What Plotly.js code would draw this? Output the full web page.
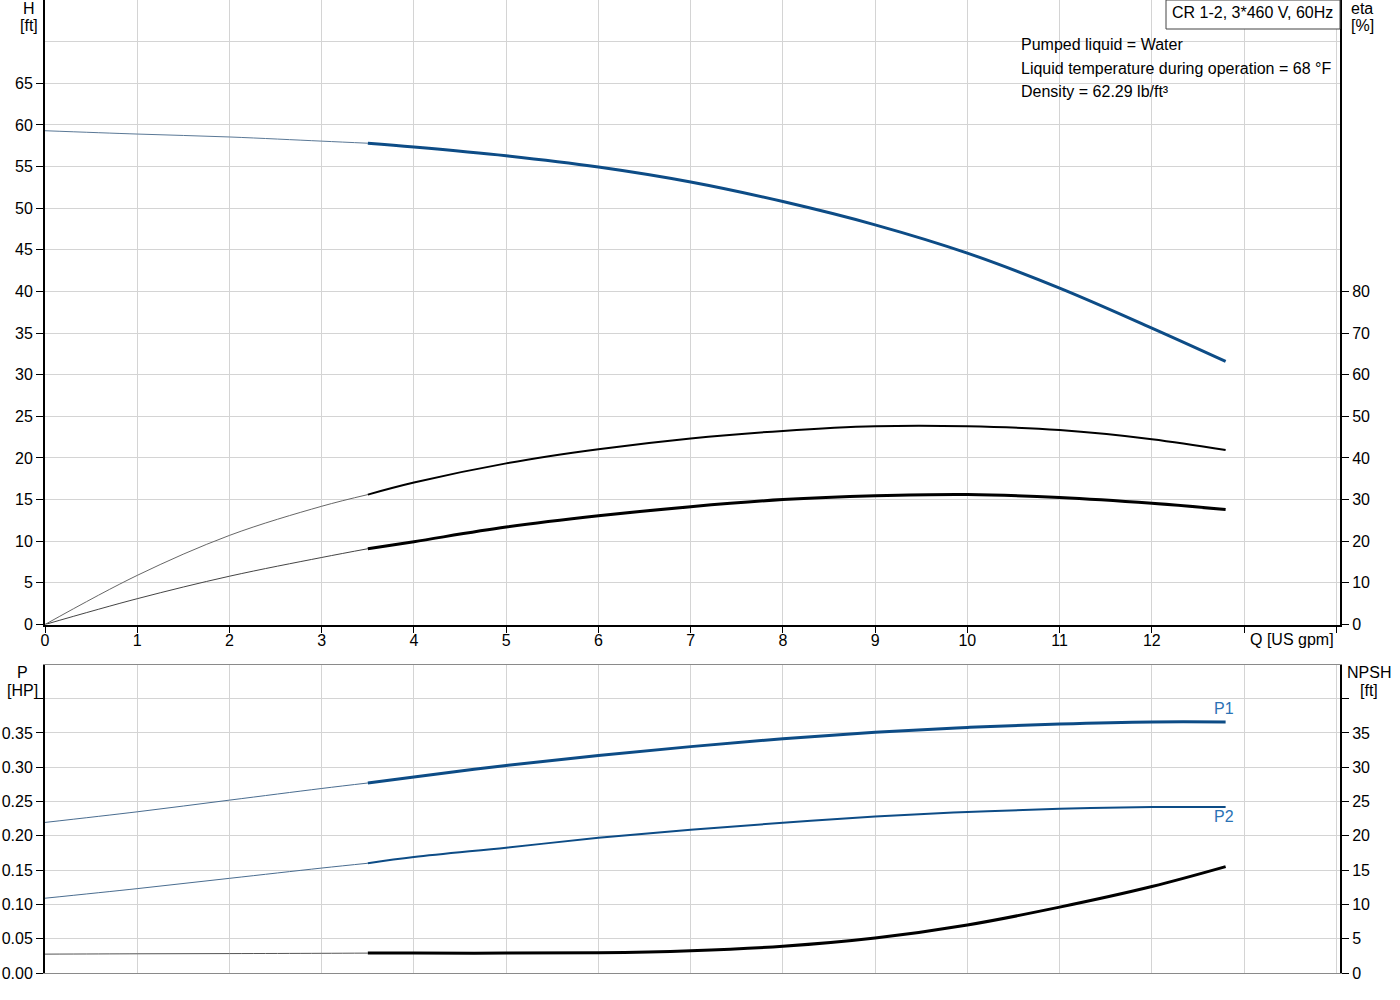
<!DOCTYPE html>
<html>
<head>
<meta charset="utf-8">
<script src="https://cdn.plot.ly/plotly-3.0.1.min.js"></script>
<style>
  html, body { margin: 0; padding: 0; background: #fff; }
  #chart { width: 1400px; height: 1000px; }
</style>
</head>
<body>
<div id="chart"></div>
<script>
// flow points, thin part (outside the operating range) and thick part
var qLow = [0, 1, 2, 3, 3.5];
var qHigh = [3.5, 4, 5, 6, 7, 8, 9, 10, 11, 12, 12.8];

// head H [ft]
var headLow = [59.3, 58.9, 58.55, 58.05, 57.8];
var headHigh = [57.8, 57.35, 56.3, 54.95, 53.15, 50.8, 48.0, 44.6, 40.4, 35.6, 31.6];

// efficiency [%] - pump
var etaPumpLow = [0, 11.8, 21.4, 28.4, 31.2];
var etaPumpHigh = [31.2, 34.1, 38.7, 42.1, 44.7, 46.5, 47.6, 47.6, 46.7, 44.5, 41.9];

// efficiency [%] - total
var etaTotLow = [0, 6.2, 11.6, 16.1, 18.2];
var etaTotHigh = [18.2, 19.9, 23.4, 26.1, 28.3, 30.0, 30.9, 31.2, 30.5, 29.1, 27.6];

// power [HP]
var p1Low = [0.2195, 0.235, 0.252, 0.269, 0.277];
var p1High = [0.277, 0.2857, 0.3026, 0.317, 0.330, 0.3415, 0.351, 0.358, 0.363, 0.366, 0.366];
var p2Low = [0.109, 0.123, 0.138, 0.153, 0.160];
var p2High = [0.160, 0.169, 0.1827, 0.197, 0.209, 0.219, 0.228, 0.2347, 0.2395, 0.242, 0.242];

// NPSH [ft]
var npshLow = [2.75, 2.8, 2.83, 2.87, 2.9];
var npshHigh = [2.9, 2.9, 2.9, 2.95, 3.25, 3.9, 5.1, 7.0, 9.6, 12.6, 15.5];

// tick labels
var qTicks = [0, 1, 2, 3, 4, 5, 6, 7, 8, 9, 10, 11, 12, 13, 14];
var qLabels = ["0", "1", "2", "3", "4", "5", "6", "7", "8", "9", "10", "11", "12", "", ""];
var hTicks = [0, 5, 10, 15, 20, 25, 30, 35, 40, 45, 50, 55, 60, 65];
var etaTicks = [0, 10, 20, 30, 40, 50, 60, 70, 80];
var pTicks = [0, 0.05, 0.10, 0.15, 0.20, 0.25, 0.30, 0.35, 0.40];
var pLabels = ["0.00", "0.05", "0.10", "0.15", "0.20", "0.25", "0.30", "0.35", ""];
var npshTicks = [0, 5, 10, 15, 20, 25, 30, 35, 40];
var npshLabels = ["0", "5", "10", "15", "20", "25", "30", "35", ""];

var blue = "#0d4c86";
var labelBlue = "#2a72b5";
var gridCol = "#d4d4d4";
var fontFam = "Liberation Sans, Arial, sans-serif";

function line(x, y, xa, ya, color, width) {
  return {
    type: "scatter", mode: "lines", x: x, y: y, xaxis: xa, yaxis: ya,
    line: { color: color, width: width, shape: "spline", smoothing: 1 },
    hoverinfo: "skip", showlegend: false
  };
}

var traces = [
  line(qLow, headLow, "x", "y", "#5a7896", 1),
  line(qHigh, headHigh, "x", "y", blue, 3),
  line(qLow, etaPumpLow, "x", "y2", "#666666", 1),
  line(qHigh, etaPumpHigh, "x", "y2", "#000000", 2),
  line(qLow, etaTotLow, "x", "y2", "#444444", 1),
  line(qHigh, etaTotHigh, "x", "y2", "#000000", 3),
  line(qLow, p1Low, "x2", "y3", "#4a6d90", 1),
  line(qHigh, p1High, "x2", "y3", blue, 3),
  line(qLow, p2Low, "x2", "y3", "#4a6d90", 1),
  line(qHigh, p2High, "x2", "y3", blue, 2),
  line(qLow, npshLow, "x2", "y4", "#555555", 1),
  line(qHigh, npshHigh, "x2", "y4", "#000000", 3)
];

var tickFont = { family: fontFam, size: 16, color: "#000" };

var layout = {
  width: 1400,
  height: 1000,
  margin: { l: 0, r: 0, t: 0, b: 0 },
  paper_bgcolor: "#fff",
  plot_bgcolor: "#fff",
  font: { family: fontFam, size: 16, color: "#000" },
  showlegend: false,
  xaxis: {
    domain: [45 / 1400, 1340 / 1400],
    range: [0, 14.04],
    tickmode: "array", tickvals: qTicks, ticktext: qLabels,
    ticks: "outside", ticklen: 6, tickcolor: "#000",
    ticklabelstandoff: -6,
    showgrid: true, gridcolor: gridCol, gridwidth: 1,
    showline: true, linecolor: "#000", linewidth: 2,
    zeroline: false, tickfont: tickFont,
    anchor: "y", fixedrange: true
  },
  yaxis: {
    domain: [0.3755, 1],
    range: [0, 75],
    tickmode: "array", tickvals: hTicks,
    ticks: "outside", ticklen: 7, tickcolor: "#000",
    showgrid: true, gridcolor: gridCol, gridwidth: 1,
    minor: { tickvals: [70, 75], showgrid: true, gridcolor: gridCol, ticks: "" },
    showline: true, linecolor: "#000", linewidth: 2,
    zeroline: false, tickfont: tickFont,
    anchor: "x", fixedrange: true
  },
  yaxis2: {
    overlaying: "y", side: "right", anchor: "x",
    range: [0, 150],
    tickmode: "array", tickvals: etaTicks,
    ticks: "outside", ticklen: 7, tickcolor: "#000",
    showgrid: false, showline: true, linecolor: "#000", linewidth: 2,
    zeroline: false, tickfont: tickFont, fixedrange: true
  },
  xaxis2: {
    domain: [45 / 1400, 1340 / 1400],
    range: [0, 14.04],
    tickmode: "array", tickvals: qTicks,
    showticklabels: false, ticks: "",
    showgrid: true, gridcolor: gridCol, gridwidth: 1,
    showline: true, linecolor: "#8a8a8a", linewidth: 1, mirror: true,
    zeroline: false, anchor: "y3", fixedrange: true
  },
  yaxis3: {
    domain: [0.027, 0.335],
    range: [0, 0.449],
    tickmode: "array", tickvals: pTicks, ticktext: pLabels,
    ticks: "outside", ticklen: 7, tickcolor: "#000",
    showgrid: true, gridcolor: gridCol, gridwidth: 1,
    showline: true, linecolor: "#000", linewidth: 2,
    zeroline: false, tickfont: tickFont,
    anchor: "x2", fixedrange: true
  },
  yaxis4: {
    overlaying: "y3", side: "right", anchor: "x2",
    range: [0, 44.9],
    tickmode: "array", tickvals: npshTicks, ticktext: npshLabels,
    ticks: "outside", ticklen: 7, tickcolor: "#000",
    showgrid: false, showline: true, linecolor: "#000", linewidth: 2,
    zeroline: false, tickfont: tickFont, fixedrange: true
  },
  shapes: [
    // white background behind the liquid info text
    { type: "rect", xref: "paper", yref: "paper", layer: "between",
      x0: 1012 / 1400, x1: 1338 / 1400, y0: 1 - 108 / 1000, y1: 1 - 30 / 1000,
      fillcolor: "#fff", line: { width: 0 } },
    // pump name box
    { type: "rect", xref: "paper", yref: "paper", layer: "above",
      x0: 1166 / 1400, x1: 1340 / 1400, y0: 1 - 29 / 1000, y1: 1,
      fillcolor: "#fff", line: { color: "#444", width: 1 } }
  ],
  annotations: [
    { text: "H", xref: "paper", yref: "paper", x: 29 / 1400, y: 1 - 8 / 1000, showarrow: false, xanchor: "center", yanchor: "middle" },
    { text: "[ft]", xref: "paper", yref: "paper", x: 29 / 1400, y: 1 - 25 / 1000, showarrow: false, xanchor: "center", yanchor: "middle" },
    { text: "eta", xref: "paper", yref: "paper", x: 1349 / 1400, y: 1 - 8 / 1000, showarrow: false, xanchor: "left", yanchor: "middle" },
    { text: "[%]", xref: "paper", yref: "paper", x: 1349 / 1400, y: 1 - 25 / 1000, showarrow: false, xanchor: "left", yanchor: "middle" },
    { text: "Q [US gpm]", xref: "x", yref: "paper", x: 13.52, y: 1 - 639 / 1000, showarrow: false, xanchor: "center", yanchor: "middle" },
    { text: "CR 1-2, 3*460 V, 60Hz", xref: "paper", yref: "paper", x: 1252 / 1400, y: 1 - 12 / 1000, showarrow: false, xanchor: "center", yanchor: "middle" },
    { text: "Pumped liquid = Water", xref: "paper", yref: "paper", x: 1019 / 1400, y: 1 - 44 / 1000, showarrow: false, xanchor: "left", yanchor: "middle" },
    { text: "Liquid temperature during operation = 68 °F", xref: "paper", yref: "paper", x: 1019 / 1400, y: 1 - 68 / 1000, showarrow: false, xanchor: "left", yanchor: "middle" },
    { text: "Density = 62.29 lb/ft³", xref: "paper", yref: "paper", x: 1019 / 1400, y: 1 - 92 / 1000, showarrow: false, xanchor: "left", yanchor: "middle" },
    { text: "P", xref: "paper", yref: "paper", x: 22 / 1400, y: 1 - 672 / 1000, showarrow: false, xanchor: "center", yanchor: "middle" },
    { text: "[HP]", xref: "paper", yref: "paper", x: 22 / 1400, y: 1 - 690 / 1000, showarrow: false, xanchor: "center", yanchor: "middle" },
    { text: "NPSH", xref: "paper", yref: "paper", x: 1369 / 1400, y: 1 - 672 / 1000, showarrow: false, xanchor: "center", yanchor: "middle" },
    { text: "[ft]", xref: "paper", yref: "paper", x: 1369 / 1400, y: 1 - 690 / 1000, showarrow: false, xanchor: "center", yanchor: "middle" },
    { text: "P1", xref: "x2", yref: "paper", x: 12.78, y: 1 - 708 / 1000, showarrow: false, xanchor: "center", yanchor: "middle", font: { color: labelBlue } },
    { text: "P2", xref: "x2", yref: "paper", x: 12.78, y: 1 - 816 / 1000, showarrow: false, xanchor: "center", yanchor: "middle", font: { color: labelBlue } }
  ]
};

Plotly.newPlot("chart", traces, layout, { staticPlot: true, displayModeBar: false });
</script>
</body>
</html>
